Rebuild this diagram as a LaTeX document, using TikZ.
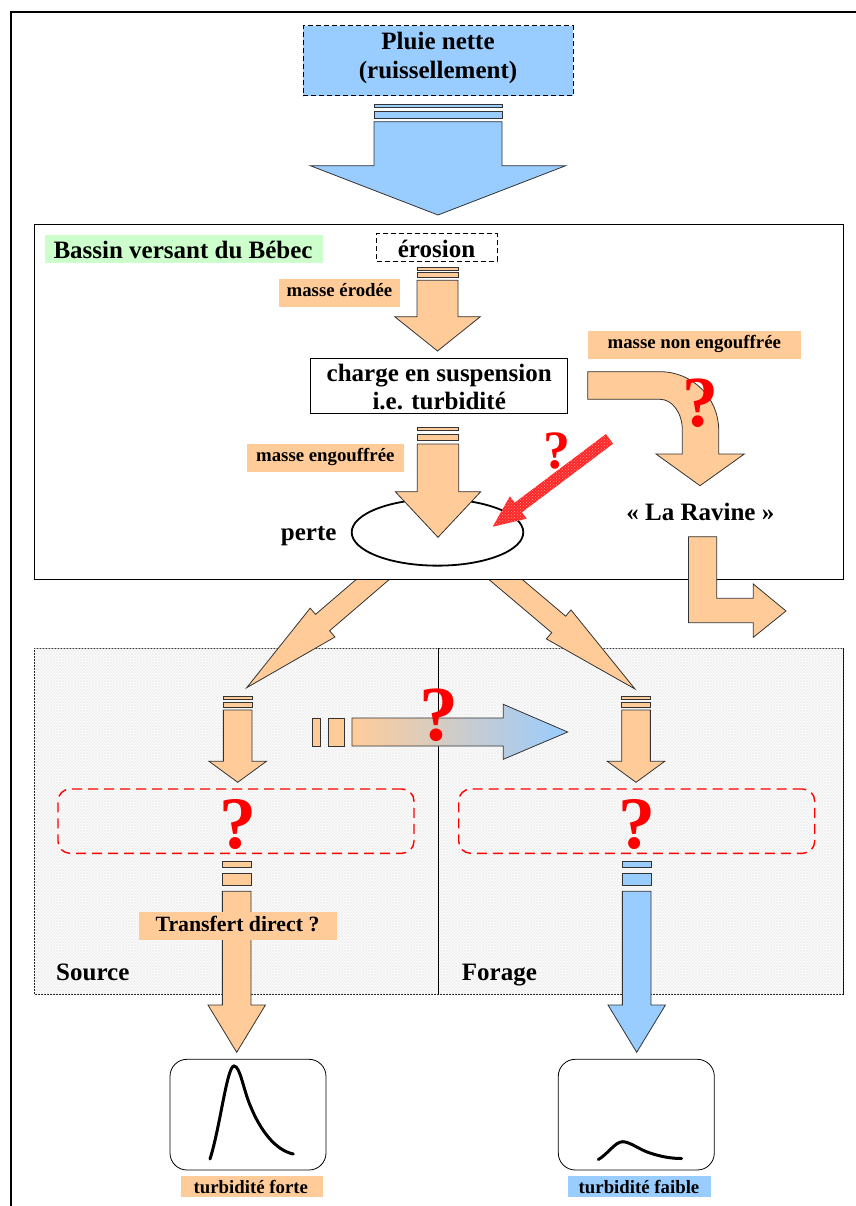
\documentclass[tikz,border=0pt]{standalone}
\usepackage{fontspec}
\setmainfont{Liberation Serif}
\usetikzlibrary{calc,patterns,shapes.geometric}
\definecolor{orf}{HTML}{FFCC99}
\definecolor{blf}{HTML}{99CCFF}
\definecolor{grf}{HTML}{CCFFCC}
\tikzset{
 t25/.style={font=\fontsize{25}{30}\selectfont\bfseries, inner sep=0},
 t19/.style={font=\fontsize{18.8}{22}\selectfont\bfseries, inner sep=0},
 t22/.style={font=\fontsize{21.8}{26}\selectfont\bfseries, inner sep=0},
 qm/.style={font=\fontsize{#1}{#1}\selectfont\bfseries, text=red, inner sep=0},
 oarr/.style={draw=black!80, fill=orf, line width=0.8},
 barr/.style={draw=black!80, fill=blf, line width=0.8},
 rarr/.style={draw=none, fill=red!85!white, postaction={pattern=crosshatch dots, pattern color=red!40!white}},
 olab/.style={fill=orf, inner sep=0},
 blab/.style={fill=blf, inner sep=0},
 plainbox/.style={draw, fill=white, inner sep=0, line width=0.8},
 qbox/.style={draw=red, dash pattern=on 10pt off 6pt, rounded corners=12pt, line width=1.4, inner sep=0},
 plotbox/.style={draw, fill=white, rounded corners=17pt, inner sep=0, line width=0.8},
 curve/.style={line width=3, line cap=round},
}
\newcommand{\vsarrow}[8][]{%
 \pgfmathsetmacro\vsT{#6-#5}%
 \pgfmathsetmacro\vsA{#5+0.2*\vsT}%
 \pgfmathsetmacro\vsB{#5+0.4*\vsT}%
 \pgfmathsetmacro\vsC{#5+0.8*\vsT}%
 \pgfmathsetmacro\vsL{#2-#3}\pgfmathsetmacro\vsR{#2+#3}%
 \pgfmathsetmacro\vsHL{#2-#4}\pgfmathsetmacro\vsHR{#2+#4}%
 \draw[#1] (\vsL,#5) rectangle (\vsR,\vsA);
 \draw[#1] (\vsL,\vsB) rectangle (\vsR,\vsC);
 \draw[#1] (\vsL,#6) -- (\vsR,#6) -- (\vsR,#7) -- (\vsHR,#7) -- (#2,#8) -- (\vsHL,#7) -- (\vsL,#7) -- cycle;
}
\newcommand{\blockarrow}[6][]{%
 \coordinate (ba-h) at ($(#3)!#6!(#2)$);
 \draw[#1] ($(#2)!#4!90:(#3)$) -- ($(ba-h)!#4!90:(#3)$) -- ($(ba-h)!#5!90:(#3)$) -- (#3) -- ($(ba-h)!#5!-90:(#3)$) -- ($(ba-h)!#4!-90:(#3)$) -- ($(#2)!#4!-90:(#3)$) -- cycle;
}
\begin{document}
\begin{tikzpicture}[x=1pt,y=-1pt]
\useasboundingbox (0,0) rectangle (855,1206);
\fill[white] (0,0) rectangle (855,1206);
% outer frame
\draw[line width=2] (11,1207) -- (11,12) -- (856,12);

% rain
\node[draw, fill=blf, dash pattern=on 5pt off 3pt, line width=1, minimum width=270, minimum height=70, inner sep=0] (pluie) at (438,61) {};
\node[t25, anchor=base] (pluie1) at (438,49.3) {Pluie nette};
\node[t25, anchor=base] (pluie2) at (438,78.5) {(ruissellement)};
\vsarrow[barr]{438}{64}{127.7}{104.3}{121.7}{165.7}{215}

% lower hatched box
\node[draw, fill=white, postaction={pattern=crosshatch, pattern color=gray!13}, minimum width=809, minimum height=345.3, inner sep=0, line width=0.8] (lower) at (438.5,821.35) {};
\draw[line width=0.8] (lower.north) -- (lower.south);

% diagonal arrows
\coordinate (dls) at (382.4,571.2);
\coordinate (dlt) at (246.7,687.7);
\blockarrow[oarr]{dls}{dlt}{10.8pt}{19pt}{100pt}
\coordinate (drs) at (495.8,571.2);
\coordinate (drt) at (635,689);
\blockarrow[oarr]{drs}{drt}{10.8pt}{19pt}{100pt}

% bassin box
\node[plainbox, minimum width=809, minimum height=355] (bassin) at (438.5,401.5) {};
\node[fill=grf, inner sep=0, minimum width=277.7, minimum height=27.7] (bassinlab) at (183.85,248.85) {};
\node[t25, anchor=base west] (bassintxt) at (53.3,258.3) {Bassin versant du Bébec};

\node[draw, dash pattern=on 5pt off 3pt, line width=1, minimum width=120.3, minimum height=27, inner sep=0] (eros) at (436.85,247.5) {};
\node[t25, anchor=base] (erostxt) at (436.5,257.3) {érosion};
\vsarrow[oarr]{437.5}{20.5}{42.8}{267.7}{280.3}{316.7}{351}

\node[olab, minimum width=121, minimum height=27.7] (merod) at (339.5,292.85) {};
\node[t19, anchor=base] at (339.5,296.7) {masse érodée};

\node[plainbox, minimum width=257, minimum height=55] (charge) at (439.2,385.8) {};
\node[t25, anchor=base] (charge1) at (439.2,381.7) {charge en suspension};
\node[t25, anchor=base] (charge2) at (439.2,409.3) {i.e. turbidité};

\node[olab, minimum width=213.3, minimum height=27.7] (mnon) at (694.35,344.85) {};
\node[t19, anchor=base] at (694.3,348.3) {masse non engouffrée};

% curved arrow
\draw[oarr] (587.7,371.7) -- (660,371.7) .. controls (692.4,371.7) and (718.7,397.8) .. (718.7,430) -- (718.7,454) -- (744.3,454) -- (700,485.7) -- (656,454) -- (682.3,454) -- (682.3,430) .. controls (682.3,413) and (672.3,399.3) .. (660,399.3) -- (587.7,399.3) -- cycle;
\node[qm=72] (q1) at (700,403) {?};

\node[olab, minimum width=157.3, minimum height=28] (meng) at (325.35,458) {};
\node[t19, anchor=base] at (325.3,461.7) {masse engouffrée};

\node[draw, ellipse, line width=1.8, minimum width=171.6, minimum height=66.7, inner sep=0] (perte) at (437.5,532.3) {};
\node[t25, anchor=base west] (pertetxt) at (280.7,540) {perte};
\vsarrow[oarr]{438}{20.7}{42.7}{427.3}{444}{491.7}{537.3}

\coordinate (ras) at (609.5,438.9);
\coordinate (rat) at (492.7,526.7);
\blockarrow[rarr]{ras}{rat}{6pt}{14pt}{32pt}
\node[qm=54] (q2) at (557,451.5) {?};

\node[t25, anchor=base] (ravine) at (700.3,520) {« La Ravine »};
\draw[oarr] (688.5,536.7) -- (716.7,536.7) -- (716.7,598.3) -- (753.3,598.3) -- (753.3,584) -- (786,611) -- (753.3,637.3) -- (753.3,622.7) -- (688.5,622.7) -- cycle;

% lower section
\vsarrow[oarr]{237.7}{14.35}{28.7}{696.7}{710}{761.3}{782.3}
\vsarrow[oarr]{636}{14.35}{28.7}{696.7}{710}{761.3}{782.3}

\draw[oarr] (312,718) rectangle (320.3,746);
\draw[oarr] (328,718) rectangle (344.3,746);
\draw[draw=black!80, line width=0.8, left color=orf, right color=blf] (352,718) -- (503.3,718) -- (503.3,704.3) -- (567.7,732) -- (503.3,759.3) -- (503.3,746) -- (352,746) -- cycle;
\node[qm=78] (q3) at (438.7,715) {?};

\node[qbox, minimum width=356, minimum height=64.3] (qbl) at (236,821.15) {};
\node[qbox, minimum width=356, minimum height=64.3] (qbr) at (636.7,821.15) {};
\node[qm=74] (q4) at (238,824.5) {?};
\node[qm=74] (q5) at (637,824.5) {?};

\vsarrow[oarr]{236.7}{14.35}{28.7}{861.7}{891.3}{1005}{1052.3}
\vsarrow[barr]{636.7}{14.35}{28.7}{861.7}{891.3}{1005}{1052.3}

\node[olab, minimum width=197.7, minimum height=27.7] (transf) at (237.85,925.85) {};
\node[t22, anchor=base] at (237.5,931.7) {Transfert direct ?};

\node[t25, anchor=base west] (source) at (56,980) {Source};
\node[t25, anchor=base west] (forage) at (461.7,980) {Forage};

% plots
\node[plotbox, minimum width=156, minimum height=110.7] (pl) at (248,1114.65) {};
\node[plotbox, minimum width=156, minimum height=110.7] (pr) at (636.3,1114.65) {};
\draw[curve] (210,1159) .. controls (220,1128) and (227,1066) .. (234,1066) .. controls (240,1066) and (243,1088) .. (250,1105) .. controls (260,1130) and (275,1150) .. (293.3,1154);
\draw[curve] (598.3,1159.5) .. controls (608,1154) and (615,1141.7) .. (622.7,1141.7) .. controls (630,1141.7) and (640,1150) .. (650,1153) .. controls (662,1157) and (672,1158.5) .. (681.7,1158.5);

\node[olab, minimum width=141.7, minimum height=20.7] (tforte) at (251.85,1186.35) {};
\node[t19, anchor=base] at (250.8,1193.3) {turbidité forte};
\node[blab, minimum width=142.7, minimum height=20.7] (tfaible) at (639.65,1186.35) {};
\node[t19, anchor=base] at (639,1193.3) {turbidité faible};
\end{tikzpicture}
\end{document}
